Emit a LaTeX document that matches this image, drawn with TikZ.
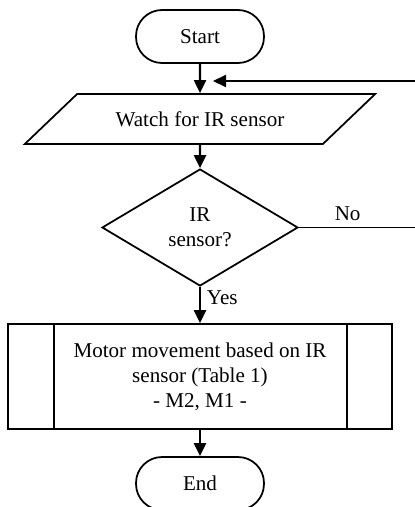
\documentclass[tikz,border=0pt]{standalone}
\usepackage{fontspec}
\setmainfont{Liberation Serif}
\usetikzlibrary{arrows.meta,positioning,shapes.geometric,calc}

\begin{document}
\begin{tikzpicture}[
    x=0.02cm, y=-0.02cm,
    font=\fontsize{12}{14.2}\selectfont,
    term/.style={draw, rounded corners=0.52cm, minimum width=2.56cm, minimum height=1.06cm, line width=1pt},
    io/.style={draw, trapezium, trapezium left angle=35, trapezium right angle=145,
      trapezium stretches=true, minimum width=7.02cm, minimum height=1cm, line width=1pt},
    dec/.style={draw, diamond, minimum width=3.92cm, minimum height=2.34cm, inner sep=0pt,
      align=center, line width=1pt},
    proc/.style={draw, minimum width=7.68cm, minimum height=2.1cm, align=center, line width=1pt},
    flow/.style={-{Triangle[width=0.24cm,length=0.26cm]}, line width=1.2pt},
]
\useasboundingbox (0,0) rectangle (415,507);

\node[term] (start) at (200,36.5) {Start};
\node[io] (watch) at (200,119) {Watch for IR sensor};
\node[dec] (irq) at (200,227.5) {IR\\sensor?};
\node[proc] (motor) at (200,376.5)
  {Motor movement based on IR\\sensor (Table 1)\\- M2, M1 -};
\node[term] (stop) at (200,483.5) {End};

\coordinate (backin) at (415,81);
\coordinate (backtip) at (213,81);
\coordinate (noout) at (415,227.5);

\draw[line width=1pt] ($(motor.north west)+(47,0)$) -- ($(motor.south west)+(47,0)$);
\draw[line width=1pt] ($(motor.north east)+(-46,0)$) -- ($(motor.south east)+(-46,0)$);

\draw[flow] (start) -- (watch);
\draw[flow] (backin) -- (backtip);
\draw[flow] (watch) -- (irq);
\draw[line width=1pt] (irq) -- node[above, pos=0.42] {No} (noout);
\draw[flow] (irq) -- node[right, pos=0.3] {Yes} (motor);
\draw[flow] (motor) -- (stop);
\end{tikzpicture}
\end{document}
